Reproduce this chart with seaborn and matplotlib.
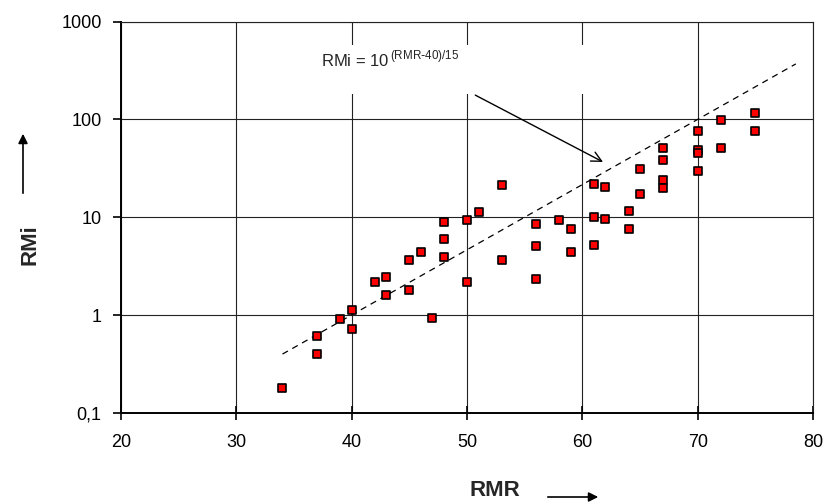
import numpy as np
import pandas as pd
import matplotlib
matplotlib.use("Agg")
import matplotlib.pyplot as plt
from matplotlib.patches import Rectangle
import seaborn as sns

# valores
rmr = [34, 37, 37, 39, 40, 40, 42, 43, 43, 45, 45, 46, 47, 48, 48, 48,
       50, 50, 51, 53, 53, 56, 56, 56, 58, 59, 59, 61, 61, 61, 62, 62,
       64, 64, 65, 65, 67, 67, 67, 67, 70, 70, 70, 70, 72, 72, 75, 75]
rmi = [0.18, 0.61, 0.40, 0.92, 1.12, 0.73, 2.18, 2.47, 1.61, 3.64, 1.80, 4.46, 0.93, 8.9, 6.0, 3.97,
       9.3, 2.18, 11.3, 21.5, 3.64, 8.6, 5.15, 2.35, 9.4, 7.6, 4.4, 22.0, 10.0, 5.2, 20.2, 9.7,
       11.7, 7.6, 31.2, 17.3, 51.0, 39.0, 23.8, 20.0, 75.8, 49.0, 45.0, 30.0, 98.0, 51.0, 116.0, 76.0]

# recta RMi = 10^((RMR-40)/15), extremos
line_rmr = [34, 78.5]
line_rmi = [0.40, 370]

x_ticks = [20, 30, 40, 50, 60, 70, 80]
y_ticks = [0.1, 1, 10, 100, 1000]
y_labels = ["0,1", "1", "10", "100", "1000"]

df = pd.DataFrame({"RMR": rmr, "RMi": rmi})

sns.set_style("white")
plt.rcParams["font.family"] = ["Liberation Sans", "DejaVu Sans"]

fig = plt.figure(figsize=(8.23, 5.04), dpi=100)
ax = fig.add_axes([0.147, 0.1806, 0.841, 0.7764])

ax.set_yscale("log")
ax.set_xlim(20, 80)
ax.set_ylim(0.1, 1000)

ax.grid(True, which="major", color="#222222", linewidth=0.8)
ax.set_axisbelow(True)

# caja blanca detras del texto de la formula
ax.add_patch(Rectangle((35.5, 183), 26.0, 580 - 183, facecolor="white",
                       edgecolor="none", zorder=1.5))

ax.plot(line_rmr, line_rmi, color="black", linestyle=(0, (5, 4)),
        linewidth=0.9, zorder=2)

sns.scatterplot(data=df, x="RMR", y="RMi", ax=ax, marker="s", s=40,
                color="#ff0000", edgecolor="black", linewidth=1.2, zorder=3)

ax.text(37.35, 417, r"RMi = 10$^{\,\mathregular{(RMR\text{-}40)/15}}$",
        fontsize=12, va="center", ha="left", zorder=4)
ax.annotate("", xy=(62, 35.7), xytext=(50.5, 183),
            arrowprops=dict(arrowstyle="->", color="black", lw=1,
                            mutation_scale=18), zorder=4)

ax.set_xticks(x_ticks)
ax.set_yticks(y_ticks)
ax.set_yticklabels(y_labels)
ax.minorticks_off()
ax.tick_params(axis="x", direction="inout", length=10, width=1.2,
               labelsize=13, pad=10, colors="black", bottom=True)
ax.tick_params(axis="y", direction="out", length=6, width=1.2,
               labelsize=13, pad=8, colors="black", left=True)

for side in ["left", "bottom"]:
    ax.spines[side].set_linewidth(1.4)
    ax.spines[side].set_color("black")
for side in ["top", "right"]:
    ax.spines[side].set_linewidth(0.8)
    ax.spines[side].set_color("#222222")

ax.set_xlabel("")
ax.set_ylabel("")

# etiquetas de los ejes con flechas
fig.text(495 / 823, 1 - 491 / 504, "RMR", fontsize=16, fontweight="bold",
         ha="center", va="center")
fig.text(30 / 823, 1 - 245 / 504, "RMi", fontsize=16, fontweight="bold",
         rotation=90, ha="center", va="center")
fig.add_artist(matplotlib.patches.FancyArrowPatch(
    (545 / 823, 1 - 497 / 504), (601 / 823, 1 - 497 / 504),
    transform=fig.transFigure, arrowstyle="-|>", mutation_scale=14,
    color="black", lw=1.2))
fig.add_artist(matplotlib.patches.FancyArrowPatch(
    (23 / 823, 1 - 196 / 504), (23 / 823, 1 - 131 / 504),
    transform=fig.transFigure, arrowstyle="-|>", mutation_scale=14,
    color="black", lw=1.2))

fig.savefig("out.png", dpi=100)
